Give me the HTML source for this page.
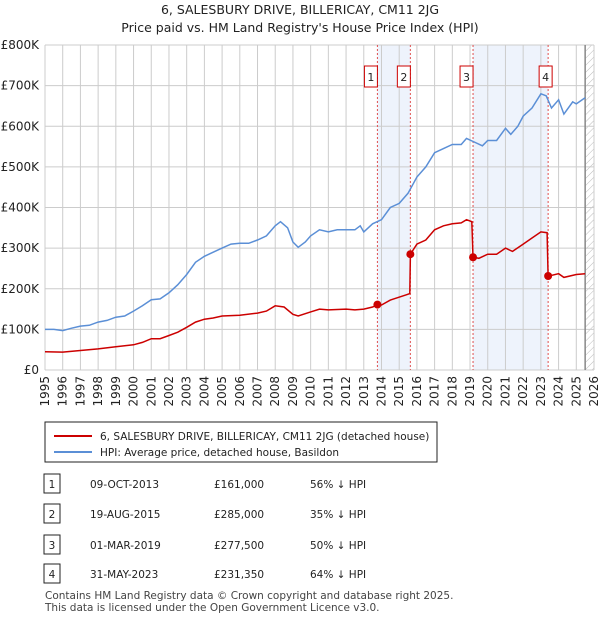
<!DOCTYPE html>
<html><head><meta charset="utf-8"><style>
body{margin:0;background:#fff;font-family:"Liberation Sans","DejaVu Sans",sans-serif;}
svg text{font-family:"DejaVu Sans","Liberation Sans",sans-serif;}
</style></head><body>
<svg id="c" width="600" height="620" viewBox="0 0 600 620" xmlns="http://www.w3.org/2000/svg">
<defs><pattern id="hatch" width="5" height="5" patternUnits="userSpaceOnUse" patternTransform="rotate(45)"><line x1="0" y1="0" x2="0" y2="5" stroke="#bbb" stroke-width="1"/></pattern></defs>
<text x="300" y="14" text-anchor="middle" font-size="12.5" fill="#222">6, SALESBURY DRIVE, BILLERICAY, CM11 2JG</text>
<text x="300" y="32" text-anchor="middle" font-size="12.5" fill="#222">Price paid vs. HM Land Registry's House Price Index (HPI)</text>
<g id="plot"></g>
<rect x="45" y="422" width="392" height="40" fill="#fff" stroke="#222"/>
<line x1="54" y1="436" x2="92" y2="436" stroke="#cc0000" stroke-width="2"/>
<text x="100" y="440" font-size="10.5" fill="#222">6, SALESBURY DRIVE, BILLERICAY, CM11 2JG (detached house)</text>
<line x1="54" y1="452" x2="92" y2="452" stroke="#5b8fd6" stroke-width="2"/>
<text x="100" y="456" font-size="10.5" fill="#222">HPI: Average price, detached house, Basildon</text>
<g id="table" font-size="10.5" fill="#222"></g>
<text x="45" y="599" font-size="10.5" fill="#444">Contains HM Land Registry data © Crown copyright and database right 2025.</text>
<text x="45" y="611" font-size="10.5" fill="#444">This data is licensed under the Open Government Licence v3.0.</text>
</svg>
<script>
const hpiYears=[1995,1995.5,1996,1996.5,1997,1997.5,1998,1998.5,1999,1999.5,2000,2000.5,2001,2001.5,2002,2002.5,2003,2003.5,2004,2004.5,2005,2005.5,2006,2006.5,2007,2007.5,2008,2008.3,2008.7,2009,2009.3,2009.7,2010,2010.5,2011,2011.5,2012,2012.5,2012.8,2013,2013.5,2014,2014.5,2015,2015.5,2016,2016.5,2017,2017.5,2018,2018.5,2018.8,2019.3,2019.7,2020,2020.5,2021,2021.3,2021.7,2022,2022.5,2023,2023.3,2023.6,2024,2024.3,2024.8,2025,2025.5];
const hpiValues=[100,100,97,103,108,110,118,122,130,133,145,158,173,175,190,210,235,265,280,290,300,310,312,312,320,330,355,365,350,315,302,315,330,345,340,345,345,345,355,340,360,370,400,410,435,475,500,535,545,555,555,570,560,552,565,565,595,580,600,625,645,680,675,645,665,630,660,655,670];
const priceYears=[1995,1996,1997,1998,1999,2000,2000.5,2001,2001.5,2002,2002.5,2003,2003.5,2004,2004.5,2005,2006,2007,2007.5,2008,2008.5,2009,2009.3,2010,2010.5,2011,2012,2012.5,2013,2013.5,2013.77,2014,2014.5,2015.4,2015.6,2015.63,2016,2016.5,2017,2017.5,2018,2018.5,2018.8,2019.1,2019.17,2019.5,2020,2020.5,2021,2021.4,2022,2022.5,2023,2023.35,2023.41,2024,2024.3,2025,2025.5];
const priceValues=[45,44,48,52,57,62,68,77,77,85,93,105,118,125,128,133,135,140,145,158,155,137,133,143,150,148,150,148,150,155,161,160,172,185,188,285,310,320,345,355,360,362,370,365,277.5,275,285,285,300,292,310,325,340,338,231,237,228,235,237];
const saleYears=[2013.77,2015.63,2019.17,2023.41];
const saleValues=[161,285,277.5,231.35];
const saleLabels=["1","2","3","4"];
const saleDates=["09-OCT-2013","19-AUG-2015","01-MAR-2019","31-MAY-2023"];
const salePrices=["£161,000","£285,000","£277,500","£231,350"];
const saleHpi=["56% ↓ HPI","35% ↓ HPI","50% ↓ HPI","64% ↓ HPI"];
const yTicks=[0,100,200,300,400,500,600,700,800];
const yTickLabels=["£0","£100K","£200K","£300K","£400K","£500K","£600K","£700K","£800K"];
const xTicks=[1995,1996,1997,1998,1999,2000,2001,2002,2003,2004,2005,2006,2007,2008,2009,2010,2011,2012,2013,2014,2015,2016,2017,2018,2019,2020,2021,2022,2023,2024,2025,2026];

const NS="http://www.w3.org/2000/svg";
const L=45,R=594,T=45,B=370;
const xs=y=>L+(y-1995)/(2026-1995)*(R-L);
const ys=v=>B-v/800*(B-T);
const g=document.getElementById('plot');
function mk(tag,attrs,parent){const e=document.createElementNS(NS,tag);for(const k in attrs)e.setAttribute(k,attrs[k]);(parent||g).appendChild(e);return e;}
[[0,1],[2,3]].forEach(p=>{const r=mk('rect',{x:xs(saleYears[p[0]]),y:T,width:xs(saleYears[p[1]])-xs(saleYears[p[0]]),height:B-T,fill:'#eef3fc'});

});
const h=mk('rect',{x:xs(2025.5),y:T,width:R-xs(2025.5),height:B-T,fill:'url(#hatch)'});


xTicks.forEach((t,i)=>{const l=mk('line',{x1:xs(t),x2:xs(t),y1:T,y2:B,stroke:'#ccc','stroke-width':1});


const tx=mk('text',{x:0,y:0,'font-size':12,fill:'#222','text-anchor':'end',transform:`translate(${xs(t)+4},${B+6}) rotate(-90)`});
tx.textContent=t;

});
yTicks.forEach((t,i)=>{const l=mk('line',{x1:L,x2:R,y1:ys(t),y2:ys(t),stroke:'#ccc','stroke-width':1});


const tx=mk('text',{x:L-6,y:ys(t)+4,'font-size':12,fill:'#222','text-anchor':'end'});
tx.textContent=yTickLabels[i];

});
const vl=mk('line',{x1:xs(2025.5),x2:xs(2025.5),y1:T,y2:B,stroke:'#888','stroke-width':1.5});


saleYears.forEach((y,i)=>{const l=mk('line',{x1:xs(y),x2:xs(y),y1:T,y2:B,stroke:'#e05050','stroke-width':1,'stroke-dasharray':'2,2'});


const bx=mk('rect',{x:xs(y)-(i==3?6:10)-3,y:66,width:13,height:21,fill:'#fff',stroke:'#cc0000'});


const tx=mk('text',{x:xs(y)-(i==3?6:10)+3.5,y:81,'font-size':11,'text-anchor':'middle',fill:'#222'});
tx.textContent=saleLabels[i];

});
const path=(xa,va)=>xa.map((x,i)=>(i?'L':'M')+xs(x).toFixed(1)+','+ys(va[i]).toFixed(1)).join('');
const hp=mk('path',{d:path(hpiYears,hpiValues),fill:'none',stroke:'#5b8fd6','stroke-width':1.5});


const pp=mk('path',{d:path(priceYears,priceValues),fill:'none',stroke:'#cc0000','stroke-width':1.5});


saleYears.forEach((y,i)=>{const c=mk('circle',{cx:xs(y),cy:ys(saleValues[i]),r:4,fill:'#cc0000'});

});
const tb=document.getElementById('table');
const rowY=[484,514,545,574];
saleLabels.forEach((s,i)=>{const y=rowY[i];
const b=mk('rect',{x:44,y:y-10,width:16,height:19,fill:'#fff',stroke:'#222'},tb);


const cols=[[52,s,'middle'],[90,saleDates[i],'start'],[214,salePrices[i],'start'],[310,saleHpi[i],'start']];
cols.forEach(c=>{const t=mk('text',{x:c[0],y:y+4,'text-anchor':c[2]},tb);t.textContent=c[1];

});});
</script>
</body></html>
